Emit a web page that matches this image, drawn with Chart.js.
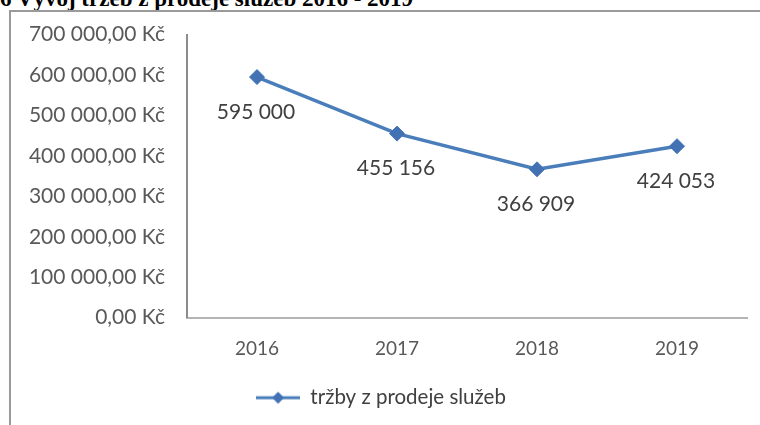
<!DOCTYPE html>
<html lang="cs">
<head>
<meta charset="utf-8">
<script src="https://cdn.jsdelivr.net/npm/chart.js@4.4.1/dist/chart.umd.min.js"></script>
<style>
  html, body { margin: 0; width: 760px; height: 425px; overflow: hidden; background: #fff; }
  #title { position: absolute; left: 0; top: -13px; font: bold 23px "Liberation Serif", serif; line-height: 23px; white-space: nowrap; color: #000; }
  #frame { position: absolute; left: 9px; top: 10px; width: 760px; height: 430px; border-top: 2px solid #9a9a9a; border-left: 2px solid #9a9a9a; }
  #wrap { position: absolute; left: 15px; top: 0; width: 745px; height: 425px; }
</style>
</head>
<body>
<div id="title">6 Vývoj tržeb z prodeje služeb 2016 - 2019</div>
<div id="frame"></div>
<div id="wrap"><canvas id="salesChart" width="745" height="425"></canvas></div>
<script>
// yearly revenue from services (CZK)
let years = ["2016", "2017", "2018", "2019"];
let revenue = [595000, 455156, 366909, 424053];
let yTicks = [0, 100000, 200000, 300000, 400000, 500000, 600000, 700000];

let lineBlue = "#4a7ebb";
let markBlue = "#4272b4";
let textGrey = "#595959";

// 595000 -> "595 000"
function spaced(v) {
    return String(v).replace(/\B(?=(\d{3})+(?!\d))/g, " ");
}

// legend symbol: line with a diamond in the middle
let legendMark = document.createElement("canvas");
legendMark.width = 44;
legendMark.height = 14;
let m = legendMark.getContext("2d");
m.strokeStyle = lineBlue;
m.lineWidth = 3;
m.beginPath();
m.moveTo(0, 7);
m.lineTo(44, 7);
m.stroke();
m.fillStyle = markBlue;
m.beginPath();
m.moveTo(22, 1);
m.lineTo(28, 7);
m.lineTo(22, 13);
m.lineTo(16, 7);
m.closePath();
m.fill();

// value under each point
const valueLabels = {
    id: "valueLabels",
    afterDatasetsDraw(chart) {
        let ctx = chart.ctx;
        let meta = chart.getDatasetMeta(0);
        ctx.save();
        ctx.font = "21px Lato";
        ctx.fillStyle = "#404040";
        ctx.textAlign = "center";
        ctx.textBaseline = "middle";
        meta.data.forEach((pt, i) => {
            ctx.fillText(spaced(revenue[i]), pt.x - 1, pt.y + 35);
        });
        ctx.restore();
    }
};

let ctx = document.getElementById("salesChart").getContext("2d");

let chart = new Chart(ctx, {
    type: "line",
    data: {
        labels: years,
        datasets: [{
            label: "tržby z prodeje služeb",
            data: revenue,
            borderColor: lineBlue,
            borderWidth: 3.5,
            pointStyle: "rectRot",
            pointRadius: 7.5,
            pointBackgroundColor: markBlue,
            pointBorderColor: markBlue,
            pointBorderWidth: 1,
            tension: 0
        }]
    },
    options: {
        responsive: false,
        animation: false,
        layout: { padding: { top: 26, right: 13, bottom: 7, left: 0 } },
        plugins: {
            legend: {
                position: "bottom",
                labels: {
                    usePointStyle: true,
                    pointStyle: legendMark,
                    pointStyleWidth: 44,
                    color: "#404040",
                    font: { family: "Lato", size: 20.5 },
                    padding: 7
                }
            },
            tooltip: { enabled: false }
        },
        scales: {
            x: {
                offset: true,
                grid: { display: false, drawTicks: false },
                border: { color: "#b4b4b4", width: 2 },
                ticks: { color: textGrey, font: { family: "Lato", size: 19 }, padding: 20 }
            },
            y: {
                min: 0,
                max: 700000,
                afterBuildTicks: (scale) => {
                    scale.ticks = yTicks.map(v => ({ value: v }));
                },
                afterFit: (scale) => {
                    scale.width = 172;
                },
                grid: { display: false, drawTicks: false },
                border: { color: "#8c8c8c", width: 2 },
                ticks: {
                    color: textGrey,
                    font: { family: "Lato", size: 21 },
                    padding: 22,
                    callback: (v) => spaced(v) + ",00 Kč"
                }
            }
        }
    },
    plugins: [valueLabels]
});
</script>
</body>
</html>
